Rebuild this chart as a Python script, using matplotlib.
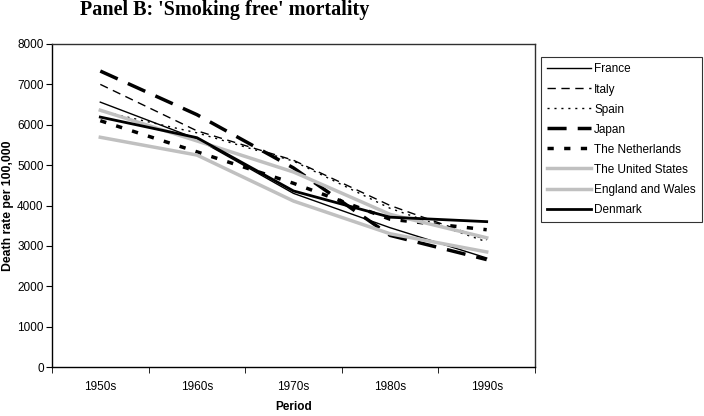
import matplotlib.pyplot as plt
import numpy as np

# data
periods = ['1950s', '1960s', '1970s', '1980s', '1990s']
france = [6560, 5650, 4300, 3450, 2700]
italy = [7000, 5850, 5120, 4000, 3150]
spain = [6340, 5800, 5100, 3930, 3100]
japan = [7330, 6250, 4930, 3260, 2660]
netherlands = [6100, 5330, 4550, 3660, 3400]
united_states = [5690, 5250, 4110, 3300, 2850]
england_wales = [6360, 5600, 4830, 3780, 3200]
denmark = [6190, 5680, 4360, 3710, 3600]

gray = '#c0c0c0'

plt.rcParams['font.family'] = ['Liberation Sans', 'DejaVu Sans']
fig = plt.figure(figsize=(7.04, 4.16), dpi=100)
ax = fig.add_axes([52 / 704, 1 - 367 / 416, (535 - 52) / 704, (367 - 44) / 416])

x = np.arange(len(periods))
ax.plot(x, france, color='black', lw=1.0, label='France')
ax.plot(x, italy, color='black', lw=1.0, dashes=(6, 4), label='Italy')
ax.plot(x, spain, color='black', lw=1.0, dashes=(1.5, 3.5), label='Spain')
ax.plot(x, japan, color='black', lw=2.5, dashes=(5.5, 3.2), label='Japan')
ax.plot(x, netherlands, color='black', lw=2.5, dashes=(1.8, 3.0), label='The Netherlands')
ax.plot(x, united_states, color=gray, lw=2.5, label='The United States')
ax.plot(x, england_wales, color=gray, lw=2.5, label='England and Wales')
ax.plot(x, denmark, color='black', lw=2.0, label='Denmark')

ax.set_xlim(-0.5, len(periods) - 0.5)
ax.set_ylim(0, 8000)
ax.set_yticks(range(0, 8001, 1000))
ax.set_xticks(x)
ax.set_xticklabels(periods)
ax.set_xticks(np.arange(-0.5, len(periods), 1.0), minor=True)
ax.tick_params(axis='x', which='major', length=0, labelsize=8.5, pad=10)
ax.tick_params(axis='x', which='minor', length=4, direction='out', color='black')
ax.tick_params(axis='y', length=4, direction='out', labelsize=8.5, pad=2)

for s in ['top', 'right']:
    ax.spines[s].set_color('#303030')
    ax.spines[s].set_linewidth(1.0)
for s in ['left', 'bottom']:
    ax.spines[s].set_color('black')
    ax.spines[s].set_linewidth(1.0)

ax.set_xlabel('Period', fontsize=8.5, fontweight='bold', labelpad=6)
ax.set_ylabel('Death rate per 100,000', fontsize=8.8, fontweight='bold', labelpad=2)

leg = fig.legend(loc='upper left', bbox_to_anchor=(541 / 704, 1 - 57 / 416),
                 fontsize=8.5, frameon=True, fancybox=False, edgecolor='black',
                 handlelength=3.7, labelspacing=0.68, borderpad=0.55,
                 handletextpad=0.25, borderaxespad=0)
leg.get_frame().set_linewidth(0.8)

fig.text(80 / 704, 1 - 15 / 416, "Panel B: 'Smoking free' mortality",
         fontsize=14.5, fontweight='bold', family='Liberation Serif', va='baseline')

fig.savefig('out.png', dpi=100)
